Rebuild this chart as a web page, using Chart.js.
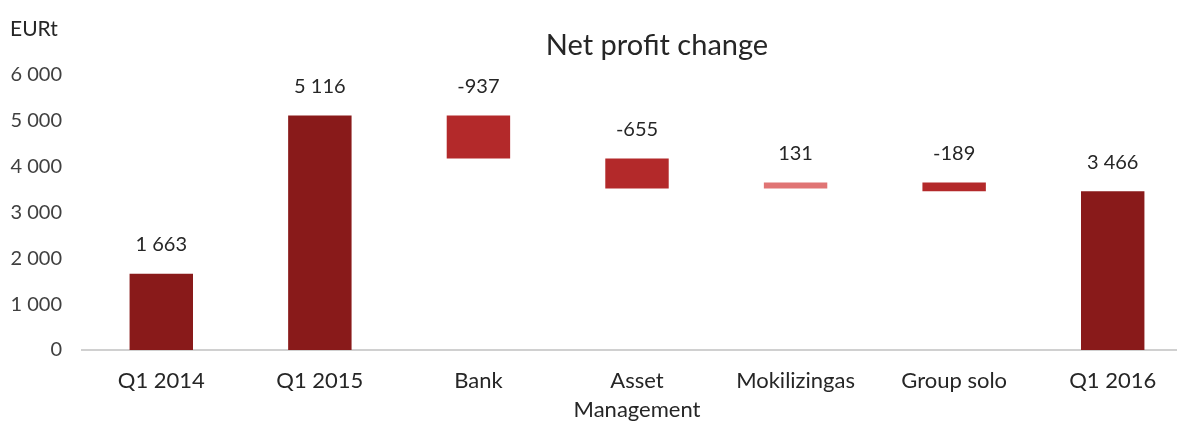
<!DOCTYPE html>
<html><head><meta charset="utf-8">
<script src="https://cdn.jsdelivr.net/npm/chart.js@4/dist/chart.umd.min.js"></script>
<style>
html,body{margin:0;padding:0;background:#fff;overflow:hidden;width:1177px;height:421px}
#wrap{width:1192px;height:421px;position:relative}
</style></head>
<body><div id="wrap"><canvas id="c" width="1192" height="421"></canvas></div>
<script>
const categories = ["Q1 2014","Q1 2015","Bank",["Asset","Management"],"Mokilizingas","Group solo","Q1 2016"];
const values = [1663, 5116, -937, -655, 131, -189, 3466];
const isTotal = [true, true, false, false, false, false, true];
const yTickValues = [0,1000,2000,3000,4000,5000,6000];

const colTotal = '#891a1a', colNeg = '#b3292a', colPos = '#e07474';
const fmt = v => (v<0?'-':'') + Math.abs(v).toString().replace(/\B(?=(\d{3})+(?!\d))/g,' ');

// floating bars built from values
let running = 0;
const floats = values.map((v,i)=>{
  if(isTotal[i]){ running = v; return [0, v]; }
  const s = running, e = running + v; running = e;
  return [Math.min(s,e), Math.max(s,e)];
});
const colors = values.map((v,i)=> isTotal[i]?colTotal:(v<0?colNeg:colPos));
const FONT = 'Lato, "Open Sans", sans-serif';

const extras = {
  id:'extras',
  afterDatasetsDraw(chart){
    const ctx = chart.ctx, meta = chart.getDatasetMeta(0);
    ctx.save();
    ctx.fillStyle = '#262626';
    ctx.font = '20px ' + FONT;
    ctx.textAlign = 'center'; ctx.textBaseline = 'middle';
    meta.data.forEach((bar,i)=>{
      const top = Math.min(bar.y, bar.base);
      ctx.fillText(fmt(values[i]), bar.x, top - 29);
    });
    ctx.font = '29px ' + FONT;
    ctx.fillText('Net profit change', 657, 46);
    ctx.font = '21px ' + FONT;
    ctx.textAlign = 'left';
    ctx.fillText('EURt', 10, 29);
    ctx.restore();
  }
};

new Chart(document.getElementById('c'), {
  type:'bar',
  data:{ labels:categories, datasets:[{ data:floats, backgroundColor:colors, borderWidth:0, barPercentage:0.4, categoryPercentage:1 }]},
  options:{
    responsive:false, animation:false,
    layout:{ padding:{ top:75, right:0, bottom:0, left:0 } },
    plugins:{ legend:{display:false}, tooltip:{enabled:false}, title:{display:false} },
    scales:{
      x:{
        grid:{ display:false, drawTicks:false },
        border:{ display:true, color:'#d0d0d0', width:2 },
        ticks:{ color:'#262626', font:{ family:FONT, size:22, lineHeight:1.32 }, padding:16, maxRotation:0, autoSkip:false },
        afterFit(s){ s.height = 71; }
      },
      y:{
        min:0, max:6000,
        afterBuildTicks(s){ s.ticks = yTickValues.map(v=>({value:v})); },
        grid:{ display:false, drawTicks:false },
        border:{ display:false },
        ticks:{ color:'#404040', font:{ family:FONT, size:20 }, padding:20, callback:v=>fmt(v) },
        afterFit(s){ s.width = 82; }
      }
    }
  },
  plugins:[extras]
});
</script></body></html>
